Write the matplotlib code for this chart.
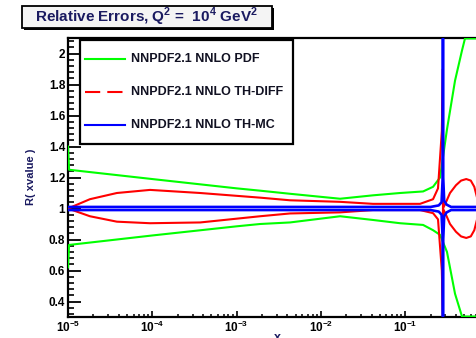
import numpy as np
import matplotlib.pyplot as plt
from matplotlib.patches import Rectangle
from matplotlib.lines import Line2D
from matplotlib.ticker import MultipleLocator, LogLocator, NullFormatter

plt.rcParams['font.family'] = ['Liberation Sans', 'DejaVu Sans']
plt.rcParams['font.weight'] = 'bold'
plt.rcParams['mathtext.fontset'] = 'custom'
plt.rcParams['mathtext.rm'] = 'Liberation Sans'
plt.rcParams['mathtext.bf'] = 'Liberation Sans:bold'

# PDF uncertainty band (upper / lower edge of the ratio)
pdf_x = [1e-5, 1.03e-5, 1e-4, 1e-3, 1.9e-3, 4.3e-3, 1.69e-2, 4.15e-2, 8.7e-2,
         0.163, 0.214, 0.259, 0.313, 0.39, 0.472, 0.512, 0.6, 0.8, 1.0]
pdf_up = [1.40, 1.25, 1.19, 1.13, 1.115, 1.095, 1.063, 1.085, 1.10,
          1.11, 1.14, 1.20, 1.51, 1.825, 2.02, 2.12, 2.4, 2.8, 3.2]
pdf_lo = [0.62, 0.765, 0.826, 0.885, 0.90, 0.91, 0.95, 0.926, 0.905,
          0.894, 0.86, 0.83, 0.72, 0.45, 0.30, 0.22, 0.1, 0.0, -0.2]

# theory uncertainty, difference method
diff_x = [1e-5, 1.82e-5, 3.8e-5, 9.4e-5, 3.7e-4, 1.9e-3, 4.3e-3, 1.69e-2, 4.15e-2,
          0.15, 0.214, 0.245, 0.272, 0.2798,
          0.2806, 0.31, 0.34, 0.40, 0.46, 0.53, 0.60, 0.66, 0.72, 1.0]
diff_up = [1.0, 1.06, 1.10, 1.12, 1.10, 1.07, 1.053, 1.043, 1.03,
           1.03, 1.06, 1.13, 1.5, 1.9,
           1.0, 1.05, 1.10, 1.15, 1.18, 1.19, 1.18, 1.14, 1.06, 1.01]
diff_lo = [1.0, 0.95, 0.915, 0.905, 0.91, 0.95, 0.968, 0.975, 0.99,
           0.99, 0.97, 0.93, 0.6, 0.2,
           1.0, 0.95, 0.90, 0.85, 0.82, 0.81, 0.82, 0.86, 0.94, 0.99]

# theory uncertainty, Monte Carlo method
mc_x = [1e-5, 0.2, 0.25, 0.27, 0.2785, 0.2805, 0.2825, 0.29, 0.31, 0.35, 1.0]
mc_up = [1.01, 1.01, 1.02, 1.04, 1.2, 2.4, 1.2, 1.05, 1.025, 1.01, 1.01]
mc_lo = [0.99, 0.99, 0.98, 0.96, 0.8, -0.4, 0.8, 0.95, 0.975, 0.99, 0.99]

labels = ['NNPDF2.1 NNLO PDF', 'NNPDF2.1 NNLO TH-DIFF', 'NNPDF2.1 NNLO TH-MC']
colors = ['#00ff00', '#ff0000', '#0000ff']
ytick_vals = [0.4, 0.6, 0.8, 1.0, 1.2, 1.4, 1.6, 1.8, 2.0]
ytick_labels = ['0.4', '0.6', '0.8', '1', '1.2', '1.4', '1.6', '1.8', '2']
xtick_vals = [1e-5, 1e-4, 1e-3, 1e-2, 1e-1]
xtick_labels = [r'$\mathbf{10^{-5}}$', r'$\mathbf{10^{-4}}$', r'$\mathbf{10^{-3}}$',
                r'$\mathbf{10^{-2}}$', r'$\mathbf{10^{-1}}$']

YMIN, YMAX = 0.3, 2.1
W, H = 476, 338


def fx(px):
    return px / W


def fy(py):
    return 1 - py / H


fig = plt.figure(figsize=(W / 100, H / 100), dpi=100)
ax = fig.add_axes([fx(68), fy(317), fx(489.5) - fx(68), fy(38) - fy(317)])

# ROOT draws out-of-range points along the frame, so clip instead of dropping
def clipped(v):
    return np.clip(np.array(v), YMIN + 0.003, YMAX - 0.003)


for ys in (pdf_up, pdf_lo):
    ax.plot(pdf_x, clipped(ys), color=colors[0], lw=1.5, zorder=3)
for ys in (diff_up, diff_lo):
    ax.plot(diff_x, clipped(ys), color=colors[1], lw=1.5, zorder=3)
for ys in (mc_up, mc_lo):
    ax.plot(mc_x, clipped(ys), color=colors[2], lw=1.9, zorder=3)

ax.set_xscale('log')
ax.set_xlim(1e-5, 1.0)
ax.set_ylim(YMIN, YMAX)

ax.set_yticks(ytick_vals, ytick_labels)
ax.yaxis.set_minor_locator(MultipleLocator(0.04))
ax.set_xticks(xtick_vals, xtick_labels)
ax.xaxis.set_minor_locator(LogLocator(base=10, subs=np.arange(2, 10)))
ax.xaxis.set_minor_formatter(NullFormatter())

ax.tick_params(axis='y', which='major', direction='in', length=9, width=1.3,
               pad=2, labelsize=8.5)
ax.tick_params(axis='y', which='minor', direction='in', length=4.5, width=1.2)
ax.tick_params(axis='x', which='major', direction='in', length=4, width=1.2,
               pad=2, labelsize=8.5)
ax.tick_params(axis='x', which='minor', direction='in', length=2.2, width=1.1)
for sp in ax.spines.values():
    sp.set_linewidth(1.6)

# title pave with shadow
fig.add_artist(Rectangle((fx(24), fy(30)), fx(272) - fx(22), fy(6) - fy(28),
                         transform=fig.transFigure, facecolor='black',
                         edgecolor='black', lw=0))
fig.add_artist(Rectangle((fx(22), fy(28)), fx(272) - fx(22), fy(6) - fy(28),
                         transform=fig.transFigure, facecolor='#f4f4f4',
                         edgecolor='black', lw=1.3))
fig.text(fx(146), fy(17), r'Relative Errors, Q$^{\mathbf{2}}$ =  10$^{\mathbf{4}}$ GeV$^{\mathbf{2}}$',
         ha='center', va='center', fontsize=11, color='#1a1a60')

# legend box
fig.add_artist(Rectangle((fx(80), fy(144)), fx(293) - fx(80), fy(40) - fy(144),
                         transform=fig.transFigure, facecolor='white',
                         edgecolor='black', lw=1.6, zorder=4))
styles = ['-', (0, (7.3, 3.4)), '-']
for i, (lab, col, ls) in enumerate(zip(labels, colors, styles)):
    ypix = 59 + 33 * i
    fig.add_artist(Line2D([fx(85), fx(125)], [fy(ypix), fy(ypix)],
                          transform=fig.transFigure, color=col, lw=1.5, ls=ls,
                          zorder=5))
    fig.text(fx(131), fy(ypix), lab, ha='left', va='center', fontsize=9,
             color='#111122', zorder=5)

fig.text(fx(31), fy(177), 'R( xvalue )', rotation=90, ha='center', va='center',
         fontsize=8, color='#1a1a60')
fig.text(fx(277), fy(332), 'x', ha='center', va='top', fontsize=9,
         color='#1a1a60')

fig.savefig('out.png', dpi=100)
